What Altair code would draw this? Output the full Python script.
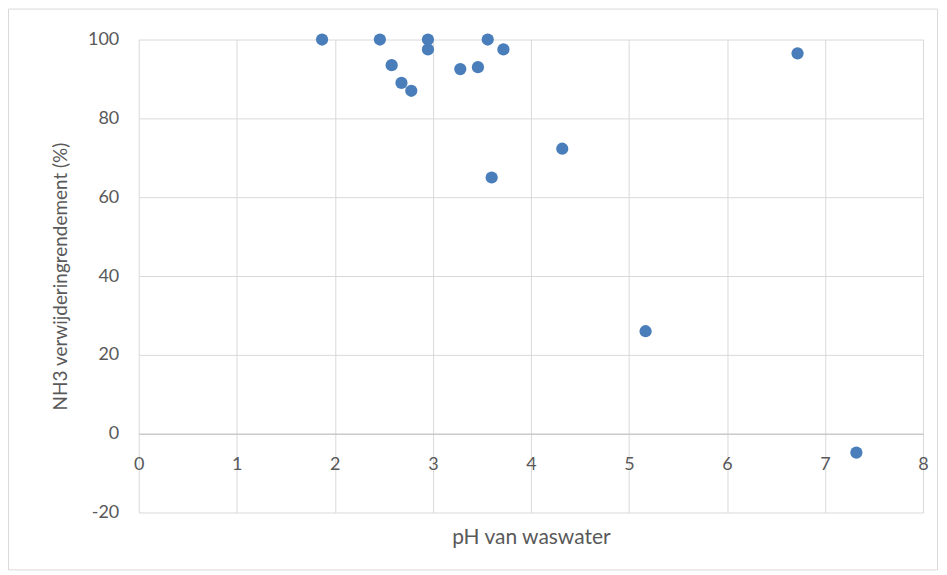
import altair as alt
import pandas as pd

ph = [1.87, 2.46, 2.58, 2.68, 2.78, 2.95, 2.95, 3.28, 3.46, 3.56, 3.60, 3.72, 4.32, 5.17, 6.72, 7.32]
rendement = [100, 100, 93.5, 89, 87, 100, 97.5, 92.5, 93, 100, 65, 97.5, 72.3, 26, 96.5, -4.8]
x_ticks = [0, 1, 2, 3, 4, 5, 6, 7, 8]
y_ticks = [-20, 0, 20, 40, 60, 80, 100]

df = pd.DataFrame({"ph": ph, "r": rendement})

FONT = "Lato"
LABEL = "#595959"
GRID = "#d9d9d9"
W, H = 786, 474

xscale = alt.Scale(domain=[0, 8], nice=False)
yscale = alt.Scale(domain=[-20, 100], nice=False)

points = alt.Chart(df).mark_circle(size=150, color="#4a7ebb", opacity=1).encode(
    x=alt.X("ph:Q", scale=xscale,
            axis=alt.Axis(values=x_ticks, title=None, grid=False, ticks=False,
                          orient="bottom", labelFlush=False,
                          domain=True, domainColor="#bfbfbf", offset=-79,
                          labelPadding=22, labelFontSize=18, labelColor=LABEL,
                          labelFont=FONT)),
    y=alt.Y("r:Q", scale=yscale,
            axis=alt.Axis(values=y_ticks, title="NH3 verwijderingrendement (%)",
                          grid=True, gridColor=GRID, ticks=False, domain=False,
                          labelExpr="replace(datum.label, '\u2212', '-')",
                          labelPadding=20, labelFontSize=18, labelColor=LABEL,
                          labelFont=FONT, titleFont=FONT, titleFontSize=19,
                          titleColor=LABEL, titleFontWeight="normal",
                          titlePadding=17)),
)

xtitle = alt.Chart(df).mark_circle(opacity=0).encode(
    x=alt.X("ph:Q", scale=xscale,
            axis=alt.Axis(values=x_ticks, title="pH van waswater", grid=True,
                          orient="bottom",
                          gridColor=GRID, ticks=False, domain=False, labels=False,
                          titleFont=FONT, titleFontSize=21, titleColor=LABEL,
                          titleFontWeight="normal", titlePadding=14)),
    y=alt.Y("r:Q", scale=yscale),
)

border = alt.Chart(alt.Data(values=[{"a": 1}])).mark_rect(
    fill=None, stroke="#d9d9d9", strokeWidth=1
).encode(
    x=alt.value(-130.5), x2=alt.value(800.5), y=alt.value(-30.5), y2=alt.value(531.5)
)

chart = alt.layer(xtitle, points, border).resolve_axis(x="independent").properties(
    width=W, height=H,
    autosize=alt.AutoSizeParams(type="none"),
    padding={"left": 131, "top": 31, "right": 16, "bottom": 59},
).configure_view(stroke=None)

chart.save("out.html", embed_options={"renderer": "svg", "actions": False})
